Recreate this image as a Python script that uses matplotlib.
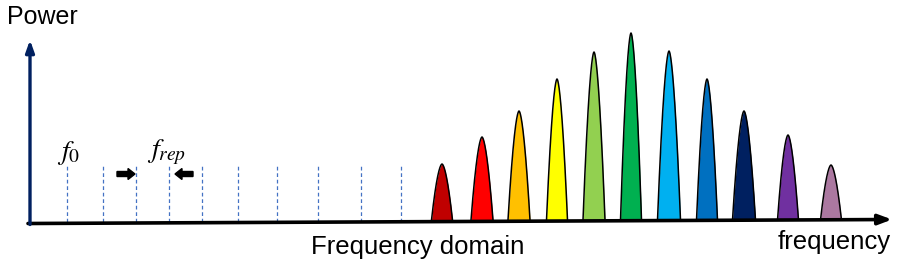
import matplotlib.pyplot as plt
import numpy as np

plt.rcParams['font.family'] = ['Liberation Sans', 'DejaVu Sans']
plt.rcParams['mathtext.fontset'] = 'stix'

# comb lines (empty part of the comb), frequency in arbitrary units
comb_freqs = [67, 103, 136, 169, 202, 238, 277, 318, 361, 401]
comb_height = 54

# spectral lines
peak_freqs = [442, 482, 519, 557, 594, 631, 669, 707, 744, 788, 831]
peak_heights = [56, 83, 109, 141, 168, 187, 169, 141, 109, 85, 55]
peak_halfwidths = [10.5, 11, 11, 10.5, 11, 10.5, 11.5, 10.5, 11.5, 10.5, 10.5]
peak_colors = ['#C00000', '#FF0000', '#FFC000', '#FFFF00', '#92D050', '#00B050',
               '#00B0F0', '#0070C0', '#002060', '#7030A0', '#AB78A0']

fig = plt.figure(figsize=(9.06, 2.73), dpi=100)
ax = fig.add_axes([0, 0, 1, 1])
ax.set_xlim(0, 906)
ax.set_ylim(-53, 220)
ax.axis('off')

# dashed comb teeth
for f in comb_freqs:
    ax.plot([f, f], [-2, comb_height], color='#4472C4', lw=0.9,
            dashes=(3, 2.2), zorder=2)

# peaks
for f, h, w, c in zip(peak_freqs, peak_heights, peak_halfwidths, peak_colors):
    u = np.linspace(-1, 1, 200)
    x = f + u * w
    y = h * (1 - np.abs(u) ** 1.7)
    ax.fill_between(x, 0, y, color=c, lw=0, zorder=3)
    ax.plot(x, y, color='black', lw=1.1, zorder=4)

# axes arrows
ax.annotate('', xy=(892, 0.5), xytext=(28, -3.5),
            arrowprops=dict(arrowstyle='-|>,head_length=0.8,head_width=0.3',
                            color='black', lw=2.6, shrinkA=0, shrinkB=0), zorder=5)
ax.annotate('', xy=(30, 180), xytext=(30, -4.5),
            arrowprops=dict(arrowstyle='-|>,head_length=0.7,head_width=0.25',
                            color='#002060', lw=2.4, shrinkA=0, shrinkB=0), zorder=5)

# f_rep arrows
ax.arrow(117, 46, 11, 0, width=5, head_width=11, head_length=7,
         length_includes_head=False, color='black', zorder=5)
ax.arrow(193, 46, -11, 0, width=5, head_width=11, head_length=7,
         length_includes_head=False, color='black', zorder=5)

ax.text(69, 67, r'$f_0$', fontsize=20, ha='center', va='center')
ax.text(167, 68, r'$f_{rep}$', fontsize=20, ha='center', va='center')

ax.text(7, 203, 'Power', fontsize=18, ha='left', va='center')
ax.text(891, -22, 'frequency', fontsize=18.5, ha='right', va='center')
ax.text(418, -27, 'Frequency domain', fontsize=18.5, ha='center', va='center')

fig.savefig('out.png', dpi=100)
